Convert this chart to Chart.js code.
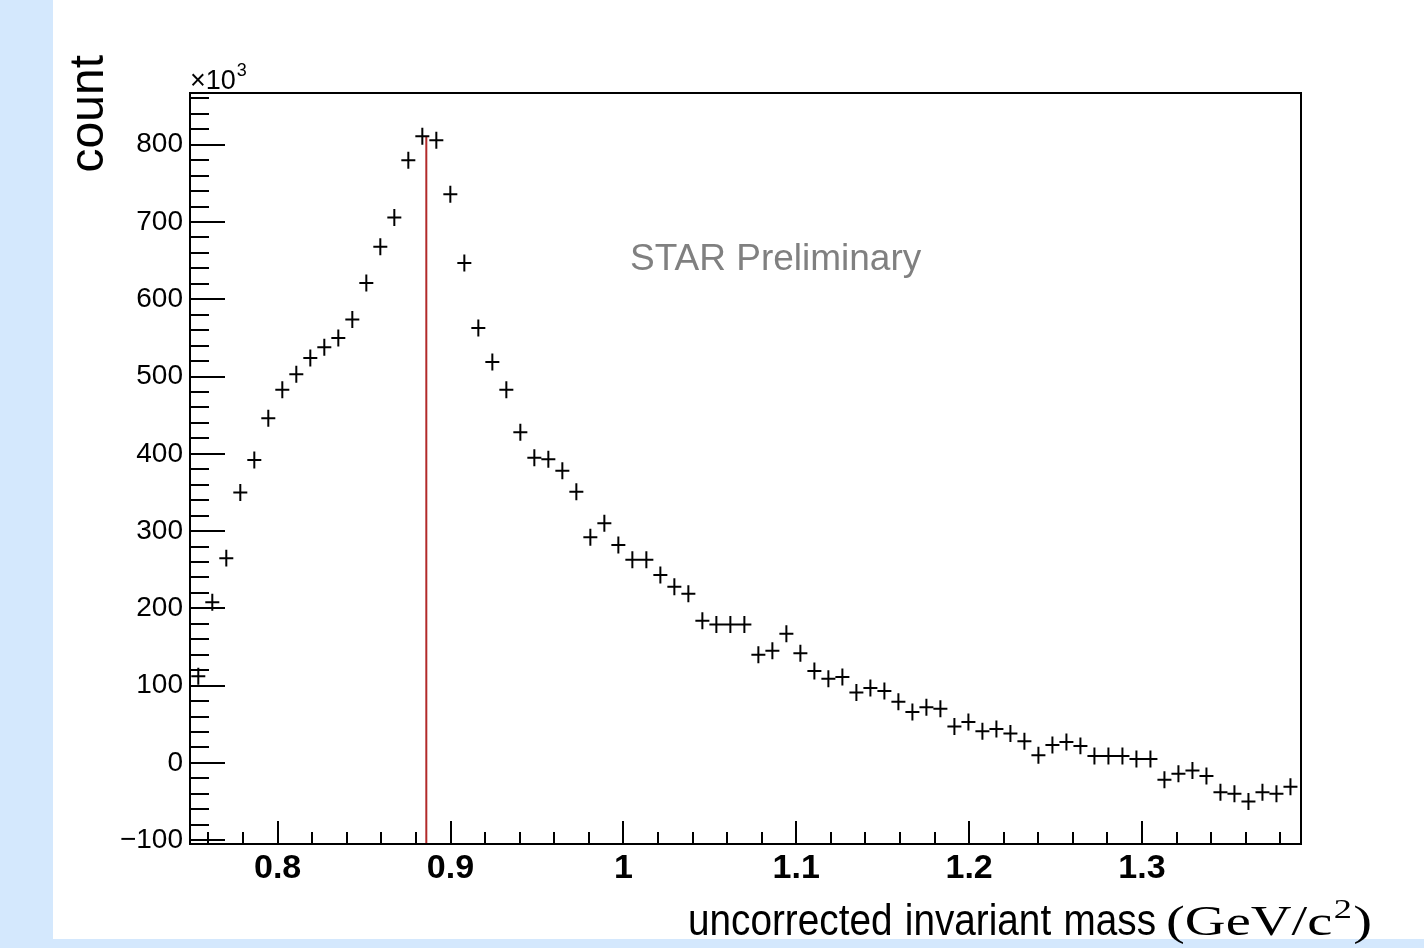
<!DOCTYPE html>
<html>
<head>
<meta charset="utf-8">
<script src="https://cdn.jsdelivr.net/npm/chart.js@4/dist/chart.umd.min.js"></script>
<style>
  html, body { margin: 0; padding: 0; width: 1424px; height: 948px; overflow: hidden; background: #d4e8fd; }
  #paper { position: absolute; left: 53px; top: 0; width: 1371px; height: 939px; background: #ffffff; }
  #c { position: absolute; left: 0; top: 0; }
</style>
</head>
<body>
<div id="paper"></div>
<canvas id="c" width="1424" height="948"></canvas>
<script>
// ---- data (counts in units of 10^3) ----
const binCenters = [
  0.7541, 0.7622, 0.7703, 0.7784, 0.7865, 0.7946, 0.8027, 0.8108, 0.8189, 0.8270,
  0.8351, 0.8432, 0.8513, 0.8594, 0.8675, 0.8756, 0.8837, 0.8918, 0.8999, 0.9080,
  0.9161, 0.9242, 0.9323, 0.9404, 0.9485, 0.9566, 0.9647, 0.9728, 0.9809, 0.9890,
  0.9971, 1.0052, 1.0133, 1.0214, 1.0295, 1.0376, 1.0457, 1.0538, 1.0619, 1.0700,
  1.0781, 1.0862, 1.0943, 1.1024, 1.1105, 1.1186, 1.1267, 1.1348, 1.1429, 1.1510,
  1.1591, 1.1672, 1.1753, 1.1834, 1.1915, 1.1996, 1.2077, 1.2158, 1.2239, 1.2320,
  1.2401, 1.2482, 1.2563, 1.2644, 1.2725, 1.2806, 1.2887, 1.2968, 1.3049, 1.3130,
  1.3211, 1.3292, 1.3373, 1.3454, 1.3535, 1.3616, 1.3697, 1.3778, 1.3859
];
const binWidth = 0.0081;
const counts = [
  112, 208, 265, 350, 392, 446, 483, 503, 524, 538,
  550, 574, 621, 668, 706, 780, 811, 806, 736, 647,
  563, 519, 483, 428, 395, 393, 378, 351, 292, 310,
  282, 263, 263, 243, 228, 219, 184, 179, 179, 179,
  140, 145, 167, 142, 119, 109, 111, 91, 97, 93,
  79, 66, 72, 70, 47, 53, 41, 44, 38, 28,
  10, 23, 27, 22, 9, 9, 9, 5, 5, -22,
  -14, -10, -17, -38, -40, -50, -38, -40, -31
];
const countErrors = counts.map(() => 11); // visual error bar half-length (x10^3)
const markerMass = 0.886;       // vertical red reference line
const markerTop = 810;
const xRange = [0.7493, 1.392];
const yRange = [-105, 867];
const xMajorStep = 0.1, xMinorStep = 0.02;
const yMajorStep = 100, yMinorStep = 20;
const xTitleWords = ['uncorrected', 'invariant', 'mass'];
const xUnit = '(GeV/c';
const yTitle = 'count';
const yMultiplier = '\u00d710';
const watermark = 'STAR Preliminary';

const points = binCenters.map((x, i) => ({ x: x, y: counts[i], err: countErrors[i] }));

function isMult(v, step) {
  const r = v / step;
  return Math.abs(r - Math.round(r)) < 1e-6;
}

const rootStyle = {
  id: 'rootStyle',
  afterDatasetsDraw(chart) {
    const ctx = chart.ctx;
    const xs = chart.scales.x, ys = chart.scales.y;
    ctx.save();
    ctx.strokeStyle = '#000';
    ctx.lineWidth = 2;
    ctx.beginPath();
    points.forEach(p => {
      const px = xs.getPixelForValue(p.x);
      const x0 = xs.getPixelForValue(p.x - binWidth / 2);
      const x1 = xs.getPixelForValue(p.x + binWidth / 2);
      const py = ys.getPixelForValue(p.y);
      const yT = ys.getPixelForValue(p.y + p.err);
      const yB = ys.getPixelForValue(p.y - p.err);
      ctx.moveTo(x0, py); ctx.lineTo(x1, py);
      ctx.moveTo(px, yT); ctx.lineTo(px, yB);
    });
    ctx.stroke();
    ctx.restore();
  },
  afterDraw(chart) {
    const ctx = chart.ctx;
    const a = chart.chartArea;
    const xs = chart.scales.x, ys = chart.scales.y;
    ctx.save();
    // ticks
    ctx.strokeStyle = '#000';
    ctx.lineWidth = 2;
    ctx.beginPath();
    ys.ticks.forEach(t => {
      const py = Math.round(ys.getPixelForValue(t.value));
      const len = isMult(t.value, yMajorStep) ? 35 : 19;
      ctx.moveTo(a.left, py); ctx.lineTo(a.left + len, py);
    });
    xs.ticks.forEach(t => {
      const px = Math.round(xs.getPixelForValue(t.value));
      const len = isMult(t.value, xMajorStep) ? 23 : 12;
      ctx.moveTo(px, a.bottom); ctx.lineTo(px, a.bottom - len);
    });
    ctx.stroke();
    // frame
    ctx.lineWidth = 2;
    ctx.strokeRect(a.left, a.top, a.right - a.left, a.bottom - a.top);

    // multiplier x10^3
    ctx.fillStyle = '#000';
    ctx.textBaseline = 'alphabetic';
    ctx.textAlign = 'left';
    ctx.font = '27px "Liberation Sans", Arial, sans-serif';
    ctx.fillText(yMultiplier, a.left, 89);
    const mw = ctx.measureText(yMultiplier).width;
    ctx.font = '18px "Liberation Sans", Arial, sans-serif';
    ctx.fillText('3', a.left + mw + 1, 76);

    // y title
    ctx.save();
    ctx.translate(103, 55);
    ctx.rotate(-Math.PI / 2);
    ctx.textAlign = 'right';
    ctx.font = '48px "Liberation Sans", Arial, sans-serif';
    ctx.fillText(yTitle, 0, 0);
    ctx.restore();

    // x title: narrow sans words with wide spacing + serif unit
    ctx.save();
    ctx.font = '44px "Liberation Sans Narrow", "Liberation Sans", Arial, sans-serif';
    const gap = 14;
    let wsum = 0;
    xTitleWords.forEach(w => { wsum += ctx.measureText(w).width; });
    wsum += gap * (xTitleWords.length - 1);
    const sx1 = 468 / wsum;
    ctx.translate(688, 935);
    ctx.scale(sx1, 1);
    let cx = 0;
    xTitleWords.forEach(w => { ctx.fillText(w, cx, 0); cx += ctx.measureText(w).width + gap; });
    ctx.restore();

    ctx.save();
    const big = '42px "Liberation Serif", "DejaVu Serif", serif';
    const small = '27px "Liberation Serif", "DejaVu Serif", serif';
    ctx.font = big;
    const w2 = ctx.measureText(xUnit).width;
    ctx.font = small;
    const w3 = ctx.measureText('2').width;
    ctx.font = big;
    const w4 = ctx.measureText(')').width;
    const total = w2 + w3 + 2 + w4;
    const sx2 = 206 / total;
    ctx.translate(1166, 935);
    ctx.scale(sx2, 1);
    ctx.fillText(xUnit, 0, 0);
    ctx.font = small;
    ctx.fillText('2', w2 + 1, -17);
    ctx.font = big;
    ctx.fillText(')', w2 + w3 + 2, 0);
    ctx.restore();

    // watermark
    ctx.fillStyle = '#808080';
    ctx.font = '37px "Liberation Sans", Arial, sans-serif';
    ctx.textAlign = 'left';
    ctx.fillText(watermark, 630, 270);
    ctx.restore();
  }
};

new Chart(document.getElementById('c'), {
  type: 'scatter',
  data: {
    datasets: [
      {
        label: 'counts',
        data: points,
        pointRadius: 0,
        pointHoverRadius: 0,
        showLine: false
      },
      {
        label: 'marker',
        type: 'line',
        data: [{ x: markerMass, y: yRange[0] }, { x: markerMass, y: markerTop }],
        borderColor: '#b22a2a',
        borderWidth: 2,
        pointRadius: 0,
        fill: false
      }
    ]
  },
  options: {
    responsive: false,
    animation: false,
    devicePixelRatio: 1,
    layout: { padding: { top: 93, right: 123, left: 0, bottom: 0 } },
    plugins: { legend: { display: false }, tooltip: { enabled: false }, title: { display: false } },
    scales: {
      x: {
        type: 'linear',
        min: xRange[0], max: xRange[1],
        grid: { display: false, drawTicks: false },
        border: { display: false },
        afterFit(s) { s.height = 104; },
        ticks: {
          stepSize: xMinorStep,
          includeBounds: false,
          autoSkip: false,
          maxRotation: 0,
          padding: 4,
          color: '#000',
          font: { family: '"Liberation Sans", Arial, sans-serif', size: 34, weight: 'bold' },
          callback(v) {
            if (!isMult(v, xMajorStep)) return '';
            return String(Math.round(v * 10) / 10);
          }
        }
      },
      y: {
        type: 'linear',
        min: yRange[0], max: yRange[1],
        grid: { display: false, drawTicks: false },
        border: { display: false },
        afterFit(s) { s.width = 190; },
        ticks: {
          stepSize: yMinorStep,
          includeBounds: false,
          autoSkip: false,
          padding: 7,
          color: '#000',
          font: { family: '"Liberation Sans", Arial, sans-serif', size: 28 },
          callback(v) {
            if (!isMult(v, yMajorStep)) return '';
            const n = Math.round(v);
            return n < 0 ? '\u2212' + Math.abs(n) : String(n);
          }
        }
      }
    }
  },
  plugins: [rootStyle]
});
</script>
</body>
</html>
